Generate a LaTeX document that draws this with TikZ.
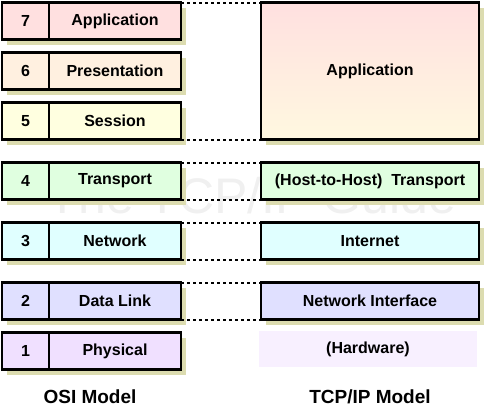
\documentclass[tikz,border=0pt]{standalone}
\usepackage{fontspec}
\setmainfont{Liberation Sans}
\usepackage{tikz}
\usetikzlibrary{positioning,shadows}
\definecolor{LayerPink}{HTML}{FFE0E0}
\definecolor{LayerPeach}{HTML}{FFF0E0}
\definecolor{LayerYellow}{HTML}{FFFFE0}
\definecolor{LayerGreen}{HTML}{E0FFE0}
\definecolor{LayerCyan}{HTML}{E0FFFF}
\definecolor{LayerBlue}{HTML}{E0E0FF}
\definecolor{LayerLilac}{HTML}{F0E0FF}
\definecolor{LayerPale}{HTML}{F8F0FF}
\definecolor{LayerAppTop}{HTML}{FFE0E0}
\definecolor{LayerAppBottom}{HTML}{FFF8E0}
\definecolor{LayerShadow}{HTML}{DCDCB0}
\definecolor{LayerMark}{HTML}{F0F0F0}
\tikzset{
  layershadow/.style={drop shadow={shadow xshift=5pt, shadow yshift=-5pt, fill=LayerShadow, opacity=1}},
  layernum/.style={draw=black, line width=1.2pt, inner sep=0pt, outer sep=0pt, minimum width=47pt, minimum height=37pt, font=\fontsize{16}{19}\selectfont\bfseries, layershadow},
  layername/.style={draw=black, line width=1.2pt, inner sep=0pt, outer sep=0pt, minimum width=132pt, minimum height=37pt, font=\fontsize{16}{19}\selectfont\bfseries, layershadow},
  layerframe/.style={draw=black, line width=2.6pt},
  stackbox/.style={draw=black, line width=2.6pt, inner sep=0pt, outer sep=0pt, minimum width=218pt, minimum height=37pt, font=\fontsize{16}{19}\selectfont\bfseries, layershadow},
  stackplain/.style={inner sep=0pt, outer sep=0pt, minimum width=218pt, minimum height=36pt, font=\fontsize{16}{19}\selectfont\bfseries},
  layerdots/.style={draw=black, line width=2pt, dash pattern=on 2.5pt off 3.5pt},
  modeltitle/.style={font=\fontsize{19}{23}\selectfont\bfseries}
}

\begin{document}
\begin{tikzpicture}[x=1pt,y=-1pt]
  \useasboundingbox (0,0) rectangle (484,416);
  \node[text=LayerMark, font=\fontsize{50}{60}\selectfont] (mark) at (252,196) {The TCP/IP Guide};
  % OSI model
  \node[layernum, fill=LayerPink] (n7) at (25.5,21) {7};
  \node[layername, fill=LayerPink, right=0pt of n7] (l7) {Application};
  \node[layernum, fill=LayerPeach] (n6) at (25.5,71) {6};
  \node[layername, fill=LayerPeach, right=0pt of n6] (l6) {Presentation};
  \node[layernum, fill=LayerYellow] (n5) at (25.5,121) {5};
  \node[layername, fill=LayerYellow, right=0pt of n5] (l5) {Session};
  \node[layernum, fill=LayerGreen] (n4) at (25.5,181) {4};
  \node[layername, fill=LayerGreen, right=0pt of n4] (l4) {Transport};
  \node[layernum, fill=LayerCyan] (n3) at (25.5,241) {3};
  \node[layername, fill=LayerCyan, right=0pt of n3] (l3) {Network};
  \node[layernum, fill=LayerBlue] (n2) at (25.5,301) {2};
  \node[layername, fill=LayerBlue, right=0pt of n2] (l2) {Data Link};
  \node[layernum, fill=LayerLilac] (n1) at (25.5,351) {1};
  \node[layername, fill=LayerLilac, right=0pt of n1] (l1) {Physical};
  \draw[layerframe] (n7.north west) rectangle (l7.south east);
  \draw[layerframe] (n6.north west) rectangle (l6.south east);
  \draw[layerframe] (n5.north west) rectangle (l5.south east);
  \draw[layerframe] (n4.north west) rectangle (l4.south east);
  \draw[layerframe] (n3.north west) rectangle (l3.south east);
  \draw[layerframe] (n2.north west) rectangle (l2.south east);
  \draw[layerframe] (n1.north west) rectangle (l1.south east);
  % TCP/IP model
  \node[stackbox, minimum height=137pt, top color=LayerAppTop, bottom color=LayerAppBottom] (app) at (370,71) {Application};
  \node[stackbox, fill=LayerGreen] (trans) at (370,181) {(Host-to-Host)\ \ Transport};
  \node[stackbox, fill=LayerCyan] (inet) at (370,241) {Internet};
  \node[stackbox, fill=LayerBlue] (netif) at (370,301) {Network Interface};
  \node[stackplain, fill=LayerPale] (hw) at (368,349) {(Hardware)};
  % matching layers
  \draw[layerdots] (l7.north east) -- (app.north west);
  \draw[layerdots] (l5.south east) -- (app.south west);
  \draw[layerdots] (l4.north east) -- (trans.north west);
  \draw[layerdots] (l4.south east) -- (trans.south west);
  \draw[layerdots] (l3.north east) -- (inet.north west);
  \draw[layerdots] (l3.south east) -- (inet.south west);
  \draw[layerdots] (l2.north east) -- (netif.north west);
  \draw[layerdots] (l2.south east) -- (netif.south west);
  \node[modeltitle] (osi) at (90,397) {OSI Model};
  \node[modeltitle] (tcpip) at (370,397) {TCP/IP Model};
\end{tikzpicture}
\end{document}
